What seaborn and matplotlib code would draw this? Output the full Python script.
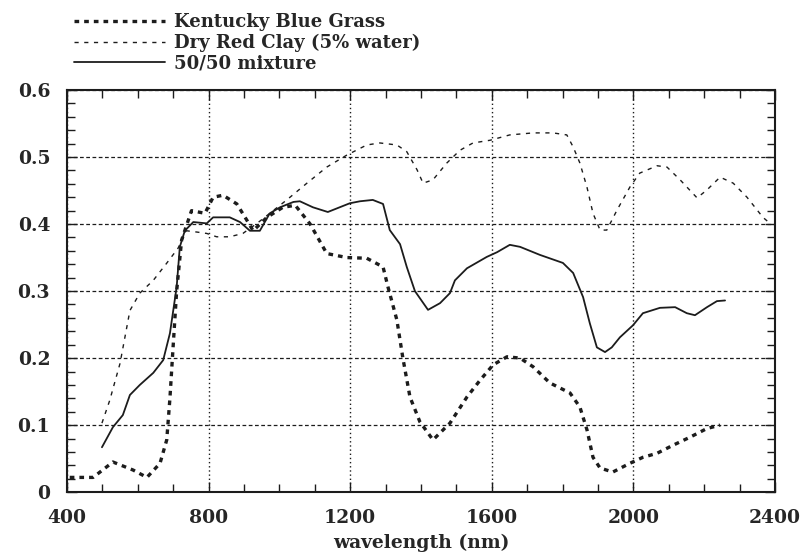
import numpy as np
import pandas as pd
import matplotlib
matplotlib.use("Agg")
import matplotlib.pyplot as plt
from matplotlib.ticker import MultipleLocator, FuncFormatter
import seaborn as sns

# Kentucky Blue Grass reflectance
grass_wl = [408, 474, 530, 587, 626, 663, 682, 691, 700, 710, 724, 752, 790, 813, 841,
            880, 908, 926, 965, 1010, 1045, 1087, 1134, 1191, 1247, 1293, 1307, 1332,
            1349, 1369, 1397, 1434, 1482, 1530, 1567, 1604, 1643, 1680, 1717, 1764,
            1821, 1849, 1869, 1886, 1906, 1942, 1990, 2027, 2067, 2112, 2160, 2208, 2245]
grass_r = [0.022, 0.022, 0.045, 0.033, 0.022, 0.043, 0.078, 0.14, 0.217, 0.30, 0.376, 0.42,
           0.416, 0.44, 0.443, 0.43, 0.406, 0.39, 0.41, 0.425, 0.428, 0.40, 0.356, 0.35,
           0.349, 0.336, 0.306, 0.257, 0.20, 0.142, 0.105, 0.078, 0.103, 0.142, 0.167,
           0.19, 0.202, 0.20, 0.187, 0.163, 0.148, 0.127, 0.093, 0.052, 0.036, 0.03,
           0.043, 0.052, 0.058, 0.07, 0.082, 0.095, 0.10]

# Dry Red Clay (5% water)
clay_wl = [499, 521, 550, 578, 606, 644, 681, 714, 738, 768, 795, 823, 860, 897, 937, 973,
           1021, 1078, 1134, 1191, 1247, 1284, 1332, 1360, 1389, 1406, 1434, 1473, 1510,
           1547, 1595, 1651, 1717, 1773, 1812, 1830, 1849, 1869, 1886, 1906, 1925, 1954,
           1990, 2018, 2067, 2095, 2132, 2180, 2208, 2245, 2282, 2321, 2366, 2386]
clay_r = [0.103, 0.137, 0.192, 0.271, 0.297, 0.316, 0.341, 0.364, 0.39, 0.388, 0.386,
          0.381, 0.381, 0.386, 0.401, 0.416, 0.436, 0.461, 0.485, 0.503, 0.518, 0.521,
          0.518, 0.508, 0.481, 0.461, 0.466, 0.491, 0.51, 0.521, 0.525, 0.533, 0.536,
          0.536, 0.533, 0.515, 0.491, 0.455, 0.416, 0.391, 0.391, 0.421, 0.455, 0.476,
          0.487, 0.485, 0.466, 0.439, 0.451, 0.470, 0.461, 0.44, 0.41, 0.401]

# 50/50 mixture
mix_wl = [499, 530, 558, 578, 606, 644, 672, 691, 710, 719, 733, 757, 795, 813, 860, 889,
          917, 945, 973, 1002, 1040, 1058, 1095, 1137, 1199, 1228, 1264, 1293, 1312, 1341,
          1360, 1383, 1420, 1454, 1482, 1496, 1530, 1586, 1615, 1651, 1680, 1736, 1801,
          1830, 1858, 1877, 1897, 1920, 1939, 1962, 1999, 2027, 2075, 2118, 2151, 2174,
          2208, 2236, 2259]
mix_r = [0.067, 0.097, 0.115, 0.145, 0.16, 0.178, 0.197, 0.237, 0.306, 0.366, 0.39, 0.403,
         0.401, 0.41, 0.41, 0.403, 0.39, 0.39, 0.416, 0.425, 0.433, 0.434, 0.425, 0.418,
         0.431, 0.434, 0.436, 0.43, 0.391, 0.37, 0.336, 0.30, 0.272, 0.282, 0.297, 0.316,
         0.334, 0.351, 0.358, 0.369, 0.366, 0.354, 0.342, 0.327, 0.291, 0.252, 0.216,
         0.209, 0.216, 0.231, 0.249, 0.267, 0.275, 0.276, 0.267, 0.264, 0.276, 0.285, 0.286]

labels = ["Kentucky Blue Grass", "Dry Red Clay (5% water)", "50/50 mixture"]

sns.set_style("ticks")
plt.rcParams["font.family"] = ["DejaVu Serif"]
plt.rcParams["font.weight"] = "bold"

fig = plt.figure(figsize=(8.06, 5.58), dpi=100)
ax = fig.add_axes([0.083, 0.118, 0.8785, 0.7207])

ink = "#1c1c1c"
sns.lineplot(x=grass_wl, y=grass_r, ax=ax, color=ink, lw=2.4, label=labels[0],
             linestyle=(0, (1.4, 1.5)))
sns.lineplot(x=clay_wl, y=clay_r, ax=ax, color=ink, lw=1.0, label=labels[1],
             linestyle=(0, (3, 4)))
sns.lineplot(x=mix_wl, y=mix_r, ax=ax, color=ink, lw=1.3, label=labels[2])

ax.set_xlim(400, 2400)
ax.set_ylim(0, 0.6)
ax.xaxis.set_major_locator(MultipleLocator(400))
ax.xaxis.set_minor_locator(MultipleLocator(100))
ax.yaxis.set_major_locator(MultipleLocator(0.1))
ax.yaxis.set_minor_locator(MultipleLocator(0.02))
ax.yaxis.set_major_formatter(FuncFormatter(lambda v, p: "0" if abs(v) < 1e-9 else f"{v:.1f}"))
ax.tick_params(which="both", direction="in", top=True, right=True, color=ink, width=1.0)
ax.tick_params(which="major", length=7, labelsize=13.5)
ax.tick_params(axis="x", which="major", pad=12)
ax.tick_params(axis="y", which="major", pad=12)
ax.tick_params(which="minor", length=6)
for t in ax.get_xticklabels() + ax.get_yticklabels():
    t.set_fontweight("bold")

ax.grid(axis="y", which="major", linestyle=(0, (3, 2)), color=ink, lw=0.9)
ax.grid(axis="x", which="major", linestyle=(0, (1, 2)), color=ink, lw=1.0)
for s in ax.spines.values():
    s.set_linewidth(1.5)
    s.set_color(ink)

ax.set_xlabel("wavelength (nm)", fontsize=13.5, fontweight="bold", labelpad=5)
ax.set_ylabel("")

handles, labs = ax.get_legend_handles_labels()
ax.get_legend().remove()
fig.legend(handles, labs, loc="upper left", bbox_to_anchor=(0.072, 1.006), frameon=False,
           handlelength=5.0, handletextpad=0.55, labelspacing=0.15,
           prop={"size": 13, "weight": "bold"})

fig.savefig("out.png", dpi=100)
